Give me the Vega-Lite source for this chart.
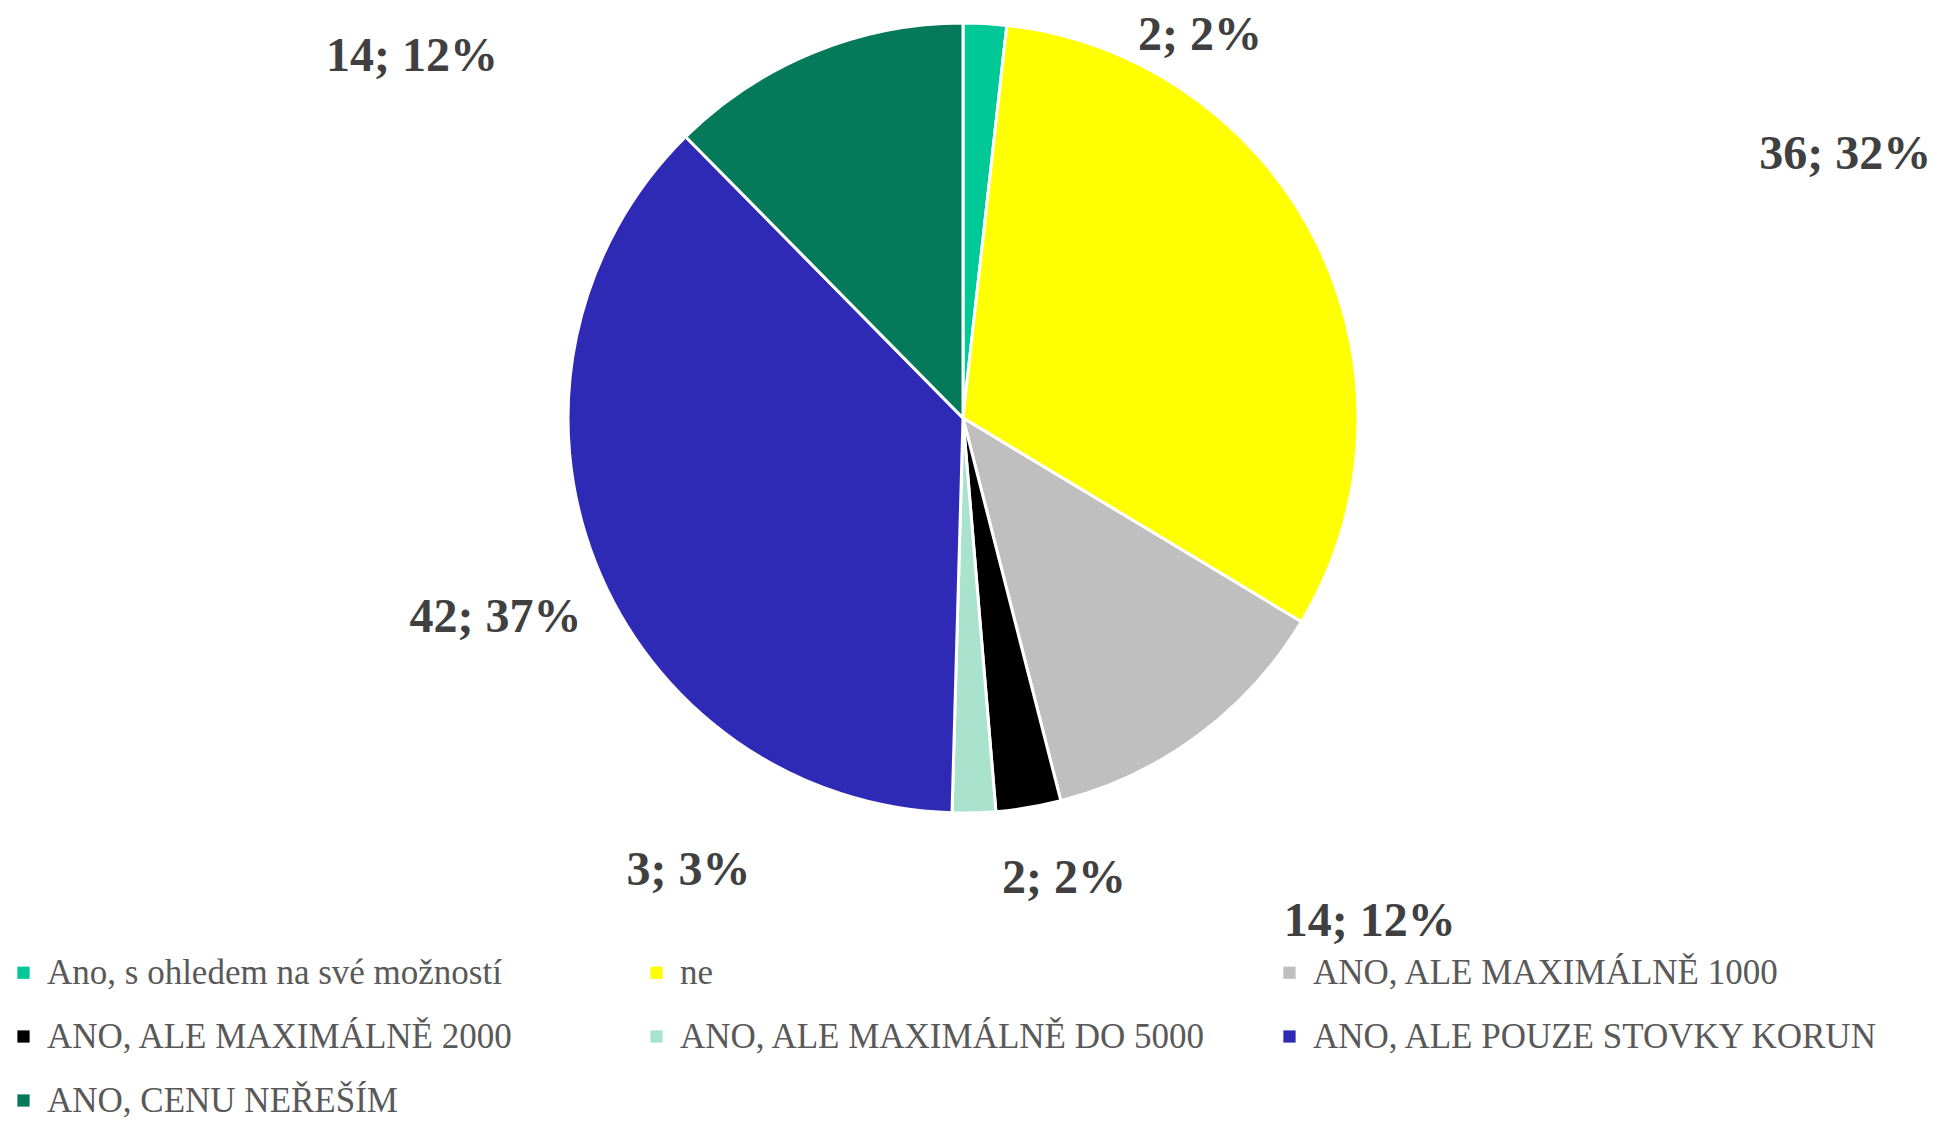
{
  "$schema": "https://vega.github.io/schema/vega-lite/v6.json",
  "width": 1926,
  "height": 836,
  "padding": {"left": 0, "top": 0, "right": 13, "bottom": 287},
  "autosize": {"type": "none"},
  "background": "white",
  "config": {
    "view": {"stroke": null},
    "legend": {
      "orient": "none",
      "direction": "horizontal",
      "legendX": 6,
      "legendY": 955,
      "columns": 3,
      "gridAlign": "all",
      "columnPadding": 25,
      "rowPadding": 28,
      "padding": 0,
      "symbolType": "square",
      "symbolSize": 150,
      "symbolStrokeWidth": 0,
      "labelFont": "Liberation Serif",
      "labelFontSize": 35,
      "labelColor": "#595959",
      "labelLimit": 0,
      "labelOffset": 6
    },
    "text": {"font": "Liberation Serif", "fontSize": 48, "fontWeight": "bold", "fill": "#404040", "align": "center", "baseline": "middle"}
  },
  "data": {
    "values": [
      {"poradi": 1, "kategorie": "Ano, s ohledem na své možností", "pocet": 2, "popisek": "2; 2%"},
      {"poradi": 2, "kategorie": "ne", "pocet": 36, "popisek": "36; 32%"},
      {"poradi": 3, "kategorie": "ANO, ALE MAXIMÁLNĚ 1000", "pocet": 14, "popisek": "14; 12%"},
      {"poradi": 4, "kategorie": "ANO, ALE MAXIMÁLNĚ 2000", "pocet": 3, "popisek": "3; 3%"},
      {"poradi": 5, "kategorie": "ANO, ALE MAXIMÁLNĚ DO 5000", "pocet": 2, "popisek": "2; 2%"},
      {"poradi": 6, "kategorie": "ANO, ALE POUZE STOVKY KORUN", "pocet": 42, "popisek": "42; 37%"},
      {"poradi": 7, "kategorie": "ANO, CENU NEŘEŠÍM", "pocet": 14, "popisek": "14; 12%"}
    ]
  },
  "encoding": {
    "theta": {"field": "pocet", "type": "quantitative", "stack": true},
    "order": {"field": "poradi", "type": "quantitative", "sort": "ascending"}
  },
  "layer": [
    {
      "mark": {"type": "arc", "outerRadius": 395, "stroke": "white", "strokeWidth": 3},
      "encoding": {
        "color": {
          "field": "kategorie",
          "type": "nominal",
          "sort": ["Ano, s ohledem na své možností", "ne", "ANO, ALE MAXIMÁLNĚ 1000", "ANO, ALE MAXIMÁLNĚ 2000", "ANO, ALE MAXIMÁLNĚ DO 5000", "ANO, ALE POUZE STOVKY KORUN", "ANO, CENU NEŘEŠÍM"],
          "scale": {
            "domain": ["Ano, s ohledem na své možností", "ne", "ANO, ALE MAXIMÁLNĚ 1000", "ANO, ALE MAXIMÁLNĚ 2000", "ANO, ALE MAXIMÁLNĚ DO 5000", "ANO, ALE POUZE STOVKY KORUN", "ANO, CENU NEŘEŠÍM"],
            "range": ["#00c896", "#ffff00", "#bfbfbf", "#000000", "#a9e3cd", "#2f2ab6", "#047a5b"]
          },
          "legend": {"title": null}
        }
      }
    },
    {
      "mark": {"type": "text", "radius": 395, "dx": 215, "dy": 12},
      "encoding": {"text": {"condition": {"test": "datum.poradi === 1", "field": "popisek"}, "value": ""}}
    },
    {
      "mark": {"type": "text", "radius": 395, "dx": 528, "dy": -88},
      "encoding": {"text": {"condition": {"test": "datum.poradi === 2", "field": "popisek"}, "value": ""}}
    },
    {
      "mark": {"type": "text", "radius": 395, "dx": 171, "dy": 187},
      "encoding": {"text": {"condition": {"test": "datum.poradi === 3", "field": "popisek"}, "value": ""}}
    },
    {
      "mark": {"type": "text", "radius": 395, "dx": -340, "dy": 63},
      "encoding": {"text": {"condition": {"test": "datum.poradi === 4", "field": "popisek"}, "value": ""}}
    },
    {
      "mark": {"type": "text", "radius": 395, "dx": 90, "dy": 66},
      "encoding": {"text": {"condition": {"test": "datum.poradi === 5", "field": "popisek"}, "value": ""}}
    },
    {
      "mark": {"type": "text", "radius": 395, "dx": -100, "dy": 55},
      "encoding": {"text": {"condition": {"test": "datum.poradi === 6", "field": "popisek"}, "value": ""}}
    },
    {
      "mark": {"type": "text", "radius": 395, "dx": -401, "dy": 4},
      "encoding": {"text": {"condition": {"test": "datum.poradi === 7", "field": "popisek"}, "value": ""}}
    }
  ]
}
